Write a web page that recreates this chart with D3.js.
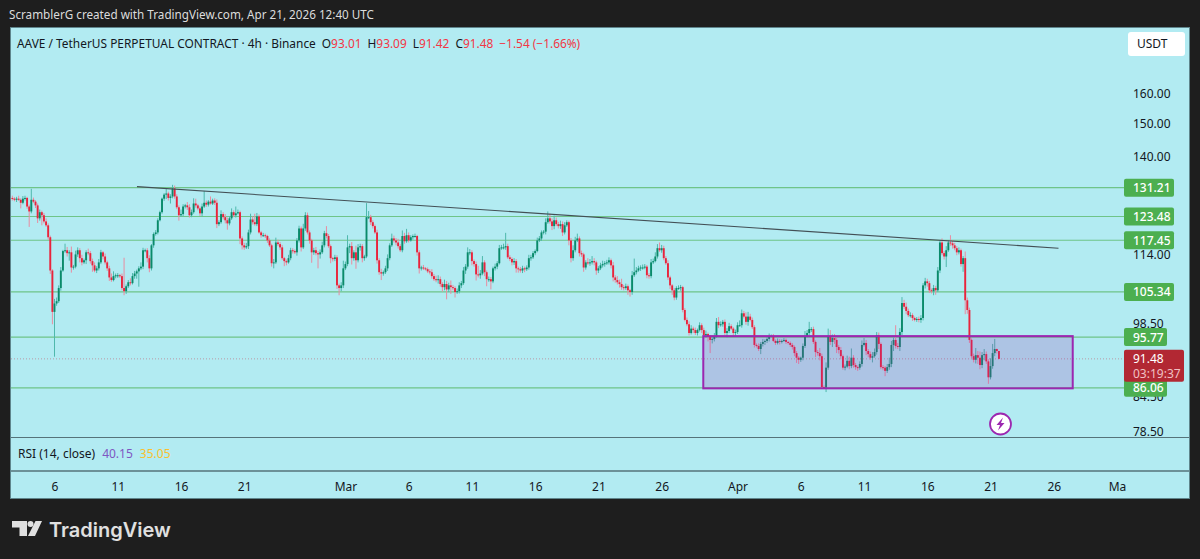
<!DOCTYPE html>
<html>
<head>
<meta charset="utf-8">
<script src="https://d3js.org/d3.v7.min.js"></script>
<style>
html, body { margin: 0; padding: 0; background: #1e1e1e; overflow: hidden; }
text { font-family: "Noto Sans", sans-serif; }
</style>
</head>
<body>
<script>
// 4h closes, 20 candles per row
var closes = [
128.2,127.9,128.2,127.9,127.1,128.2,128.4,126.1,124.8,127.9,127.4,126.4,123.0,124.6,123.8,122.2,121.2,118.2,110.2,101.0,
102.8,103.3,106.2,110.2,114.8,115.0,114.3,114.5,110.9,111.1,114.0,115.0,113.1,112.1,112.6,114.5,114.3,112.4,111.4,110.2,
110.7,112.1,114.5,113.5,112.1,110.7,108.6,108.0,108.9,109.1,109.1,108.9,106.2,105.5,106.6,107.5,107.3,108.9,109.5,110.0,
110.7,111.1,115.0,115.0,113.1,110.7,116.2,119.0,119.4,122.5,124.6,128.2,129.3,129.6,128.4,128.8,131.0,128.8,125.9,123.8,
124.1,126.1,126.4,125.9,123.8,124.6,126.9,126.4,125.6,124.3,126.1,127.1,126.6,127.4,126.9,127.7,127.1,121.5,122.0,124.1,
123.3,122.5,121.7,123.0,124.6,123.8,124.3,124.6,117.9,116.2,115.7,116.0,119.4,122.7,122.0,121.5,123.5,119.4,118.7,118.7,
118.5,117.4,116.2,111.9,112.1,116.9,116.5,115.7,113.1,112.4,112.1,113.1,115.0,114.8,114.5,117.4,120.4,115.7,120.4,123.8,
119.4,117.4,114.5,115.0,114.3,114.0,114.5,116.2,119.2,118.5,116.0,113.1,112.9,113.3,106.8,106.2,106.8,110.7,111.7,115.7,
116.0,113.1,114.5,112.6,115.7,116.0,113.1,113.5,123.3,123.3,122.0,121.0,119.4,112.6,109.8,109.5,109.8,110.7,113.1,116.2,
117.9,117.4,116.9,116.0,115.0,118.5,117.2,118.7,117.4,118.2,118.5,118.5,114.5,110.7,110.9,110.7,110.5,110.0,109.8,108.9,
108.2,108.0,108.2,107.1,106.4,107.1,105.9,106.8,106.4,106.2,105.3,105.5,106.8,107.3,110.2,111.1,114.5,114.5,112.4,111.7,
109.3,109.1,109.5,112.1,109.8,108.2,108.2,107.7,110.7,111.1,111.9,115.5,115.7,115.7,116.0,113.3,112.9,112.1,112.4,110.7,
110.5,110.2,110.7,110.5,110.9,113.1,113.3,114.3,114.8,117.4,117.9,119.4,119.6,122.0,123.0,122.2,121.0,122.5,121.5,121.0,
121.5,119.4,121.2,122.0,117.4,113.1,115.0,117.4,117.9,114.3,114.0,110.9,112.1,111.9,112.1,112.4,112.1,110.2,110.7,111.4,
111.7,111.9,112.1,112.6,111.4,108.6,108.0,107.5,107.1,106.4,106.2,106.6,105.7,105.3,109.1,109.8,110.2,110.7,110.9,110.9,
111.1,109.1,108.9,112.1,112.4,113.5,115.5,115.0,115.5,113.1,111.9,108.6,106.8,105.7,104.1,106.2,106.2,106.4,101.4,99.3,
98.4,96.6,97.5,97.2,96.6,97.2,98.2,97.2,96.2,96.4,95.8,95.2,95.4,96.0,98.9,98.2,98.4,98.9,96.6,97.0,
98.0,97.5,96.6,96.8,98.2,98.2,100.7,100.0,98.9,100.0,99.3,97.8,94.2,94.0,93.4,94.4,94.8,95.0,95.4,96.0,
96.0,95.0,94.6,95.0,94.8,95.0,95.2,94.8,94.6,94.2,93.8,92.6,91.7,91.3,91.7,94.0,96.0,96.6,97.4,97.4,
94.8,92.8,92.6,92.0,86.2,86.1,89.8,96.0,94.8,95.6,95.2,93.8,93.2,92.0,89.8,90.0,91.1,90.1,91.7,90.3,
89.9,89.8,90.5,94.2,94.6,93.0,92.4,91.7,92.0,92.8,96.2,94.4,89.9,89.8,89.2,89.9,90.5,94.2,95.2,94.0,
93.8,96.8,102.9,102.1,101.2,100.3,100.3,99.7,99.3,99.5,99.3,99.7,106.8,107.7,107.3,105.7,105.5,106.2,105.7,110.2,
116.9,114.3,113.5,115.0,116.9,116.7,116.2,115.5,114.5,115.0,111.7,113.1,103.5,101.4,95.2,92.0,91.3,92.2,91.7,90.3,
92.2,92.4,91.0,88.0,90.1,92.6,93.4,93.01,91.48
];
// wick lengths above and below each body, USDT, same rows
var wickUp = [
0.6,0.4,0.5,0.8,0.4,0.7,0.6,0.3,0.5,3.0,0.6,0.4,0.5,0.7,0.4,0.6,0.8,0.5,0.4,0.3,
1.0,0.8,0.6,0.8,0.3,1.6,0.8,0.5,1.4,0.4,0.9,0.7,0.5,0.8,0.4,0.5,0.9,0.5,0.6,0.7,
0.5,0.8,0.6,0.3,0.7,0.4,0.6,0.9,1.1,0.4,0.5,0.3,0.6,7.0,0.4,0.5,0.9,0.7,0.6,0.4,
0.5,1.0,0.6,0.4,0.5,0.7,0.3,0.4,0.6,0.5,0.4,0.3,0.4,1.2,0.5,0.6,1.0,0.8,0.6,0.5,
1.2,0.6,0.4,0.9,0.8,0.7,1.4,1.3,0.4,0.5,0.8,3.2,0.6,0.4,1.4,0.5,0.6,0.9,0.5,1.0,
0.5,0.8,0.7,0.6,1.0,0.5,1.8,0.7,0.4,0.5,0.6,0.8,0.7,1.5,0.8,2.2,0.9,0.5,0.4,0.6,
0.4,0.3,0.5,0.4,0.8,1.2,0.7,0.5,0.6,0.3,0.4,0.8,0.6,0.5,0.4,0.6,0.7,0.5,1.2,0.8,
0.7,0.5,0.4,0.6,0.8,0.5,0.7,0.9,0.6,1.8,0.5,0.4,0.3,0.6,0.5,0.4,0.7,1.8,0.6,3.0,
0.6,1.0,0.5,1.6,0.8,0.6,0.5,0.4,3.7,1.6,0.6,0.5,0.4,0.7,0.5,0.8,0.4,0.6,0.9,0.5,
1.2,0.7,0.6,0.9,0.5,1.4,0.8,1.6,0.7,0.5,0.4,0.6,0.3,0.5,0.4,0.6,0.3,0.4,0.5,0.7,
0.5,0.8,0.9,0.6,0.4,1.0,0.7,0.6,1.1,0.5,0.4,0.6,0.7,0.5,0.8,0.6,1.2,0.8,0.5,0.4,
0.6,2.0,0.8,1.5,0.5,0.4,0.6,0.5,0.4,0.7,0.5,0.8,0.6,0.9,3.3,0.6,0.5,0.4,0.7,0.5,
0.4,0.5,0.6,0.4,0.5,0.8,0.6,0.5,0.4,0.7,0.6,0.5,0.4,1.0,1.8,1.2,0.8,1.2,0.7,0.6,
0.9,0.7,0.8,0.5,0.4,0.6,1.2,0.9,1.2,0.5,0.6,0.4,0.5,1.0,0.8,1.2,0.7,0.4,0.5,0.6,
0.8,0.5,0.6,0.7,0.4,0.8,0.5,0.9,0.6,1.2,0.5,0.6,0.4,0.3,1.0,3.2,0.8,0.6,0.5,0.7,
0.6,0.4,0.5,0.8,0.6,1.0,1.0,1.4,0.8,0.6,0.5,0.7,0.4,0.3,0.5,0.4,0.6,0.5,0.3,0.4,
0.5,0.6,0.7,0.4,0.5,0.3,0.6,0.4,0.5,0.7,0.3,0.4,0.5,0.6,0.8,1.0,0.6,0.4,0.5,0.6,
0.7,0.4,0.3,0.5,0.6,1.0,0.8,0.5,0.9,1.0,0.6,0.5,0.4,0.3,0.5,0.4,0.6,0.3,0.4,0.5,
0.3,0.4,0.3,0.5,0.4,0.3,0.4,0.3,0.2,0.3,0.4,0.3,0.4,0.3,0.2,0.5,1.0,0.6,1.5,0.4,
0.5,0.3,0.4,1.0,0.5,0.3,1.0,1.5,1.2,0.7,0.8,0.5,0.4,0.6,0.3,0.4,1.0,0.8,1.8,0.5,
0.4,0.3,0.5,0.9,1.0,0.6,0.4,0.5,0.8,0.7,0.6,0.5,0.3,0.4,0.3,0.6,1.2,0.8,0.5,3.0,
0.6,0.8,1.3,0.7,0.9,0.5,0.6,0.4,0.3,0.4,0.5,0.6,0.5,0.8,0.6,0.5,0.4,0.7,0.5,0.8,
0.6,1.0,0.5,1.0,0.6,1.8,0.8,0.6,0.5,0.7,0.4,0.5,1.6,0.6,0.5,0.3,0.5,1.4,0.8,1.2,
0.6,1.0,0.5,0.4,1.5,1.8,2.0,0.08,0.0
];
var wickDown = [
0.5,0.4,0.6,0.3,1.5,0.4,0.5,0.6,4.0,0.5,0.4,0.7,1.2,0.6,2.6,0.5,0.4,0.6,0.8,2.6,
9.1,0.5,0.4,0.6,0.3,0.4,0.8,1.8,1.2,0.5,0.4,0.6,1.0,0.7,0.4,0.9,0.5,0.6,1.5,0.4,
0.6,0.5,0.4,0.7,0.5,0.6,0.8,0.4,0.3,0.5,0.6,0.4,0.5,0.9,0.6,0.4,0.5,0.3,0.6,1.2,
3.5,0.4,0.6,0.5,1.0,0.9,0.5,0.6,0.4,0.5,0.3,0.4,0.6,1.2,0.7,1.5,0.5,0.6,0.5,1.4,
0.4,0.6,0.5,0.7,0.6,0.5,0.4,0.6,0.5,0.7,0.8,0.4,0.6,0.5,0.3,0.4,0.6,1.0,0.5,0.4,
0.6,0.8,1.6,0.5,0.4,0.5,0.6,0.3,1.4,1.0,0.6,0.4,0.7,0.5,0.6,0.4,0.5,0.3,0.6,0.4,
0.5,0.6,0.4,0.8,1.2,0.4,0.5,0.6,0.4,1.2,0.7,0.3,0.5,0.6,0.4,0.8,0.5,1.0,0.4,0.6,
0.5,0.8,2.5,0.6,0.5,3.3,1.0,0.4,0.5,0.6,0.4,1.2,0.6,0.5,0.8,1.6,0.7,0.6,0.4,0.5,
1.4,1.5,0.6,2.0,0.5,0.8,1.0,0.6,0.4,0.5,0.7,0.6,0.4,0.8,0.6,1.5,0.5,0.4,0.6,0.5,
0.4,0.5,0.7,0.6,0.4,0.5,0.6,0.4,0.5,0.3,0.6,0.4,0.8,1.2,0.5,0.4,0.3,0.4,0.5,0.6,
0.4,0.5,0.8,0.6,1.0,0.7,2.2,0.6,1.5,0.5,1.2,0.4,0.5,0.6,0.4,0.8,0.5,0.7,1.0,0.6,
1.4,0.5,0.8,0.4,0.9,1.6,0.6,1.8,0.4,0.5,0.6,0.3,0.4,0.5,0.6,0.4,0.5,0.7,0.6,1.0,
0.8,0.5,0.6,0.7,0.4,0.5,0.6,0.4,0.5,0.3,0.4,0.6,0.5,0.7,0.4,0.6,1.0,0.8,0.5,0.6,
0.7,0.9,0.5,0.4,1.2,1.0,0.6,0.5,0.4,0.8,0.6,1.0,0.5,0.4,0.6,0.5,0.7,1.0,0.6,0.4,
0.5,0.6,0.4,0.5,0.7,0.9,0.6,0.5,0.8,0.6,0.5,0.4,1.0,1.0,0.6,0.4,0.5,0.3,0.6,0.5,
0.4,0.7,0.6,0.5,0.4,0.3,0.5,0.4,0.6,0.5,0.4,0.6,0.8,1.0,0.6,0.5,0.4,0.6,0.5,0.3,
0.4,0.5,0.3,0.6,0.4,0.5,0.3,0.6,0.8,0.5,0.9,2.6,0.7,0.5,0.4,0.6,0.3,0.5,0.4,0.9,
0.4,0.3,0.5,0.6,0.4,0.3,0.5,0.4,0.6,0.8,0.3,0.4,0.5,0.3,0.4,1.0,0.5,0.6,0.4,0.5,
0.3,0.2,0.4,0.3,0.5,0.3,0.2,0.4,0.3,0.4,0.5,0.6,1.0,0.8,0.4,0.5,0.4,0.3,0.5,0.6,
0.4,1.0,0.5,0.8,0.3,0.2,0.8,0.4,0.6,1.0,0.8,1.2,0.7,0.6,0.4,0.5,0.3,0.6,0.4,0.5,
0.5,0.6,0.4,0.5,0.3,0.8,0.6,0.4,0.9,0.3,0.5,1.0,0.4,0.5,1.0,0.4,0.5,0.6,1.2,0.5,
0.4,0.8,0.6,0.5,0.7,0.4,0.5,0.6,0.3,0.4,0.5,0.6,0.5,0.7,0.8,0.6,0.5,0.9,1.0,0.4,
0.6,0.5,0.7,2.5,0.4,0.6,0.8,0.5,0.7,0.5,0.6,1.8,3.0,0.8,0.6,0.4,0.5,0.7,1.2,0.8,
0.6,1.0,0.5,1.2,0.4,0.5,0.6,0.5,0.06
];
var firstOpen = 128.4;

var levels = [131.21, 123.48, 117.45, 105.34, 95.77, 86.06];
var priceTicks = [160, 150, 140, 122.5, 114, 98.5, 84.5, 78.5];
var lastPrice = 91.48;
var countdown = "03:19:37";

var dayTicks = ["2026-02-06","2026-02-11","2026-02-16","2026-02-21","2026-03-01","2026-03-06","2026-03-11","2026-03-16","2026-03-21","2026-03-26","2026-04-01","2026-04-06","2026-04-11","2026-04-16","2026-04-21","2026-04-26","2026-05-01"];
var dayLabels = ["6","11","16","21","Mar","6","11","16","21","26","Apr","6","11","16","21","26","Ma"];

var trendDates = ["2026-02-12T12:30Z", "2026-04-26T09:00Z"];
var trendPrices = [131.5, 115.5];
var boxDates = ["2026-03-29T07:00Z", "2026-04-27T12:00Z"];
var legendValues = ["O", "93.01", "H", "93.09", "L", "91.42", "C", "91.48", "−1.54 (−1.66%)"];

var W = 1200, H = 559;
var bg = "#b2ebf2", upCol = "#0a8a6a", downCol = "#e8243c";

var svg = d3.select("body").append("svg").attr("width", W).attr("height", H).style("display", "block");
svg.append("rect").attr("width", W).attr("height", H).attr("fill", "#1e1e1e");

svg.append("text").attr("x", 9).attr("y", 19).attr("fill", "#dcdcdc").attr("font-size", 11.7)
    .text("ScramblerG created with TradingView.com, Apr 21, 2026 12:40 UTC");

// main pane
svg.append("rect").attr("x", 10.5).attr("y", 27.5).attr("width", 1179).attr("height", 471)
    .attr("fill", bg).attr("stroke", "#5f858c");
svg.append("clipPath").attr("id", "pane").append("rect").attr("x", 11).attr("y", 28).attr("width", 1178).attr("height", 409);

var x = d3.scaleUtc().domain([new Date("2026-02-06T00:00Z"), new Date("2026-05-01T00:00Z")]).range([54.5, 1117]);
var y = d3.scaleLog().domain([160, 78.5]).range([93.5, 431.5]);
var t0 = +new Date("2026-02-06T00:00Z");
var candles = closes.map(function (c, i) {
    var o = i == 0 ? firstOpen : closes[i - 1];
    return {
        t: new Date(t0 + (i - 20) * 4 * 3600 * 1000), o: o, c: c,
        h: Math.max(o, c) + wickUp[i], l: Math.min(o, c) - wickDown[i]
    };
});

var plot = svg.append("g").attr("clip-path", "url(#pane)");

// level lines
plot.selectAll(".level").data(levels).enter().append("line")
    .attr("x1", 11).attr("x2", 1125)
    .attr("y1", function (d) { return y(d); }).attr("y2", function (d) { return y(d); })
    .attr("stroke", "#4caf50").attr("stroke-opacity", 0.65).attr("stroke-width", 1.2);

// last price dotted line
plot.append("line").attr("x1", 11).attr("x2", 1125).attr("y1", y(lastPrice)).attr("y2", y(lastPrice))
    .attr("stroke", "#b99aa6").attr("stroke-dasharray", "1 2");

// candles
var candle = plot.selectAll(".candle").data(candles).enter().append("g");
candle.append("line")
    .attr("x1", function (d) { return x(d.t); }).attr("x2", function (d) { return x(d.t); })
    .attr("y1", function (d) { return y(d.h); }).attr("y2", function (d) { return y(d.l); })
    .attr("stroke", function (d) { return d.c >= d.o ? "#4fb8ac" : "#e98ca0"; });
candle.append("rect")
    .attr("x", function (d) { return x(d.t) - 0.95; }).attr("width", 1.9)
    .attr("y", function (d) { return y(Math.max(d.o, d.c)); })
    .attr("height", function (d) { return Math.max(1, Math.abs(y(d.o) - y(d.c))); })
    .attr("fill", function (d) { return d.c >= d.o ? upCol : downCol; });

// box
plot.append("rect")
    .attr("x", x(new Date(boxDates[0]))).attr("width", x(new Date(boxDates[1])) - x(new Date(boxDates[0])))
    .attr("y", y(95.77) - 1).attr("height", y(86.06) - y(95.77) + 1.5)
    .attr("fill", "#9c27b0").attr("fill-opacity", 0.2).attr("stroke", "#9c27b0").attr("stroke-width", 2);

// trend line
plot.append("line")
    .attr("x1", x(new Date(trendDates[0]))).attr("y1", y(trendPrices[0]))
    .attr("x2", x(new Date(trendDates[1]))).attr("y2", y(trendPrices[1]))
    .attr("stroke", "#434f55").attr("stroke-width", 1.1);

// price axis
var yAxis = d3.axisRight(y).tickValues(priceTicks).tickFormat(d3.format(".2f")).tickSize(0);
var yg = svg.append("g").attr("transform", "translate(1130,0)").call(yAxis);
yg.select(".domain").remove();
yg.selectAll("text").attr("fill", "#131722").attr("font-size", 12).attr("x", 3);

// green labels
levels.forEach(function (d) {
    var lab = d3.format(".2f")(d);
    var g = svg.append("g").attr("transform", "translate(1124," + y(d) + ")");
    g.append("rect").attr("y", -9).attr("height", 18).attr("rx", 2)
        .attr("width", lab.length > 5 ? 50 : 43).attr("fill", "#4caf50");
    g.append("text").attr("x", 9).attr("y", 4.5).attr("fill", "#fff").attr("font-size", 12).attr("font-weight", 500).text(lab);
});

// last price label
var lastG = svg.append("g").attr("transform", "translate(1124," + y(lastPrice) + ")");
lastG.append("rect").attr("y", -9).attr("width", 60).attr("height", 32).attr("rx", 2).attr("fill", "#b22833");
lastG.append("text").attr("x", 9).attr("y", 4.5).attr("fill", "#fff").attr("font-size", 12).text(d3.format(".2f")(lastPrice));
lastG.append("text").attr("x", 9).attr("y", 19).attr("fill", "#f0c0c4").attr("font-size", 12).text(countdown);

// USDT button
svg.append("rect").attr("x", 1128).attr("y", 32).attr("width", 57).attr("height", 24).attr("rx", 3).attr("fill", "#fff");
svg.append("text").attr("x", 1137).attr("y", 48).attr("fill", "#131722").attr("font-size", 12).text("USDT");

// legend
var legend = svg.append("text").attr("x", 17).attr("y", 47.5).attr("font-size", 11.9).attr("fill", "#131722");
legend.append("tspan").text("AAVE / TetherUS PERPETUAL CONTRACT · 4h · Binance");
legendValues.forEach(function (v, i) {
    legend.append("tspan").attr("dx", i % 2 == 0 ? 6 : 0)
        .attr("fill", i == 8 || i % 2 == 1 ? "#f23645" : "#131722").text(v);
});

// RSI pane
svg.append("line").attr("x1", 11).attr("x2", 1189).attr("y1", 437.5).attr("y2", 437.5).attr("stroke", "#55737a");
svg.append("line").attr("x1", 11).attr("x2", 1189).attr("y1", 471).attr("y2", 471).attr("stroke", "#55737a").attr("stroke-width", 1.5);
var rsi = svg.append("text").attr("x", 18).attr("y", 458).attr("font-size", 12).attr("fill", "#131722");
rsi.append("tspan").text("RSI (14, close)");
rsi.append("tspan").attr("dx", 7).attr("fill", "#7e57c2").text("40.15");
rsi.append("tspan").attr("dx", 7).attr("fill", "#fbc02d").text("35.05");

// time axis
var xAxis = d3.axisBottom(x).tickValues(dayTicks.map(function (d) { return new Date(d + "T00:00Z"); }))
    .tickFormat(function (d, i) { return dayLabels[i]; }).tickSize(0);
var xg = svg.append("g").attr("transform", "translate(0,479)").call(xAxis);
xg.select(".domain").remove();
xg.selectAll("text").attr("fill", "#131722").attr("font-size", 12).attr("y", 3);

// lightning icon
var icon = svg.append("g").attr("transform", "translate(1000.5,424)");
icon.append("circle").attr("r", 10.5).attr("fill", "#fff").attr("stroke", "#9c27b0").attr("stroke-width", 1.8);
icon.append("path").attr("d", "M2.5 -6.5L-4 1H-0.5L-2.5 6.5L4 -1H0.5Z").attr("fill", "#9c27b0");

// TradingView logo
var logo = svg.append("g").attr("fill", "#e0e0e0");
logo.append("path").attr("d", "M12 521H27V536H19.5V527.5H12Z");
logo.append("circle").attr("cx", 30.5).attr("cy", 524).attr("r", 3);
logo.append("path").attr("d", "M35.5 521H42L35 536H28Z");
svg.append("text").attr("x", 49).attr("y", 537).attr("fill", "#e0e0e0").attr("font-size", 20)
    .style("font-family", "Inter, sans-serif").attr("font-weight", 600).text("TradingView");
</script>
</body>
</html>
